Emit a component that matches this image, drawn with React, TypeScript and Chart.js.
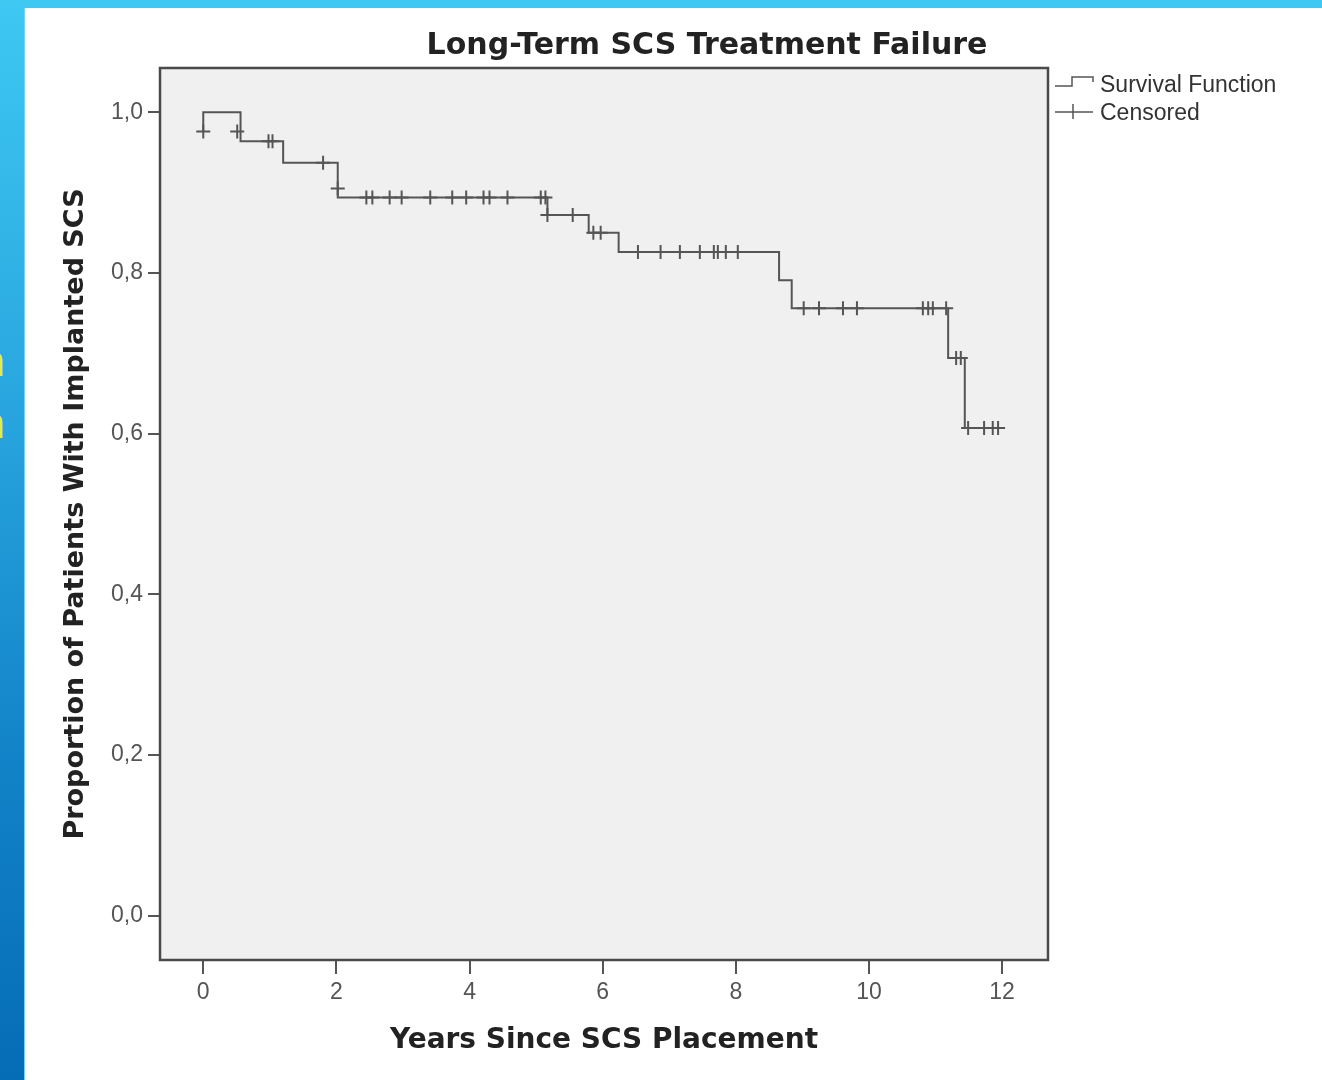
import { useEffect, useRef } from 'react';
import { Chart, registerables } from 'chart.js';

Chart.register(...registerables);

// Kaplan-Meier step points (time in years, survival proportion)
const eventTimes = [0, 0, 0.56, 1.2, 2.02, 5.17, 5.79, 6.24, 8.65, 8.84, 11.19, 11.44, 12.02];
const survivalValues = [0.976, 1.0, 0.964, 0.937, 0.894, 0.872, 0.85, 0.826, 0.791, 0.756, 0.694, 0.607, 0.607];

// Censored observations
const censorTimes = [
  0, 0.51, 0.98, 1.04, 1.8, 2.02,
  2.45, 2.54, 2.8, 2.98, 3.41, 3.74, 3.95, 4.21, 4.3, 4.57, 5.07, 5.14,
  5.17, 5.55, 5.86, 5.97,
  6.53, 6.87, 7.16, 7.46, 7.67, 7.73, 7.85, 8.03,
  9.02, 9.25, 9.61, 9.82, 10.81, 10.89, 10.96, 11.16,
  11.31, 11.38, 11.49, 11.73, 11.86, 11.94,
];
const censorValues = [
  0.976, 0.976, 0.964, 0.964, 0.937, 0.905,
  0.894, 0.894, 0.894, 0.894, 0.894, 0.894, 0.894, 0.894, 0.894, 0.894, 0.894, 0.894,
  0.872, 0.872, 0.85, 0.85,
  0.826, 0.826, 0.826, 0.826, 0.826, 0.826, 0.826, 0.826,
  0.756, 0.756, 0.756, 0.756, 0.756, 0.756, 0.756, 0.756,
  0.694, 0.694, 0.607, 0.607, 0.607, 0.607,
];

const xTicks = [0, 2, 4, 6, 8, 10, 12];
const yTicks = [0, 0.2, 0.4, 0.6, 0.8, 1.0];
const titleText = 'Long-Term SCS Treatment Failure';
const xTitle = 'Years Since SCS Placement';
const yTitle = 'Proportion of Patients With Implanted SCS';
const legendLabels = ['Survival Function', 'Censored'];

const FONT = '"Liberation Sans", Arial, sans-serif';
const BOLD_FONT = '"DejaVu Sans", "Liberation Sans", sans-serif';
const LINE = '#555555';
const CW = 1298;
const CH = 1072;

export default function App() {
  const ref = useRef<HTMLCanvasElement | null>(null);

  useEffect(() => {
    const canvas = ref.current;
    if (!canvas) return;

    const decor = {
      id: 'decor',
      beforeDraw(chart: any) {
        const { ctx, chartArea: a } = chart;
        ctx.save();
        ctx.fillStyle = '#f0f0f0';
        ctx.fillRect(a.left, a.top, a.right - a.left, a.bottom - a.top);
        ctx.restore();
      },
      afterDraw(chart: any) {
        const { ctx, chartArea: a } = chart;
        ctx.save();
        // frame
        ctx.strokeStyle = '#4a4a4a';
        ctx.lineWidth = 2.5;
        ctx.strokeRect(a.left, a.top, a.right - a.left, a.bottom - a.top);
        // title
        ctx.fillStyle = '#222222';
        ctx.font = `bold 30px ${BOLD_FONT}`;
        ctx.textAlign = 'center';
        ctx.textBaseline = 'middle';
        ctx.fillText(titleText, 683, 38);
        // legend
        const lx = a.right + 7;
        ctx.strokeStyle = LINE;
        ctx.lineWidth = 1.5;
        ctx.beginPath();
        ctx.moveTo(lx, 78);
        ctx.lineTo(lx + 17, 78);
        ctx.lineTo(lx + 17, 69);
        ctx.lineTo(lx + 38, 69);
        ctx.lineTo(lx + 38, 74);
        ctx.stroke();
        ctx.beginPath();
        ctx.moveTo(lx, 104);
        ctx.lineTo(lx + 38, 104);
        ctx.moveTo(lx + 18, 96);
        ctx.lineTo(lx + 18, 111);
        ctx.stroke();
        ctx.fillStyle = '#333333';
        ctx.font = `23px ${FONT}`;
        ctx.textAlign = 'left';
        ctx.fillText(legendLabels[0], lx + 45, 78);
        ctx.fillText(legendLabels[1], lx + 45, 106);
        ctx.restore();
      },
    };

    const chart = new Chart(canvas, {
      type: 'line',
      data: {
        datasets: [
          {
            label: legendLabels[0],
            data: eventTimes.map((t, i) => ({ x: t, y: survivalValues[i] })),
            stepped: true,
            borderColor: LINE,
            borderWidth: 2,
            pointRadius: 0,
            fill: false,
          },
          {
            label: legendLabels[1],
            data: censorTimes.map((t, i) => ({ x: t, y: censorValues[i] })),
            showLine: false,
            pointStyle: 'cross',
            pointRadius: 7,
            pointBorderWidth: 2,
            borderColor: LINE,
            backgroundColor: LINE,
          },
        ],
      },
      options: {
        animation: false,
        responsive: false,
        devicePixelRatio: 1,
        layout: { padding: { top: 60, right: CW - 1024, left: 0, bottom: 0 } },
        plugins: {
          legend: { display: false },
          title: { display: false },
          tooltip: { enabled: false },
        },
        scales: {
          x: {
            type: 'linear',
            min: -0.65,
            max: 12.69,
            afterBuildTicks: (s: any) => {
              s.ticks = xTicks.map((v) => ({ value: v }));
            },
            afterFit: (s: any) => {
              s.height = CH - 952;
            },
            grid: {
              drawOnChartArea: false,
              drawTicks: true,
              tickLength: 14,
              color: LINE,
              lineWidth: 2,
            },
            border: { display: false },
            ticks: {
              color: '#555555',
              padding: 5,
              maxRotation: 0,
              font: { family: FONT, size: 23 },
            },
            title: {
              display: true,
              text: xTitle,
              color: '#222222',
              font: { family: BOLD_FONT, size: 28, weight: 'bold' },
              padding: { top: 0, bottom: 22 },
            },
          },
          y: {
            type: 'linear',
            min: -0.055,
            max: 1.055,
            afterBuildTicks: (s: any) => {
              s.ticks = yTicks.map((v) => ({ value: v }));
            },
            afterFit: (s: any) => {
              s.width = 136;
            },
            grid: {
              drawOnChartArea: false,
              drawTicks: true,
              tickLength: 12,
              color: LINE,
              lineWidth: 2,
            },
            border: { display: false },
            ticks: {
              color: '#555555',
              padding: 5,
              font: { family: FONT, size: 23 },
              callback: (v: any) => Number(v).toFixed(1).replace('.', ','),
            },
            title: {
              display: true,
              text: yTitle,
              color: '#222222',
              font: { family: BOLD_FONT, size: 27, weight: 'bold' },
              padding: { top: 36, bottom: 0 },
            },
          },
        },
      },
      plugins: [decor],
    } as any);

    return () => chart.destroy();
  }, []);

  return (
    <div
      style={{
        position: 'fixed',
        left: 0,
        top: 0,
        width: 1322,
        height: 1080,
        overflow: 'hidden',
        background: 'linear-gradient(to bottom, #3ec8f2 0%, #2aa8e0 35%, #1283c8 70%, #056cb6 100%)',
      }}
    >
      <div
        style={{
          position: 'absolute',
          left: -22,
          top: 330,
          color: '#d8f048',
          font: `bold 44px ${FONT}`,
          lineHeight: '62px',
        }}
      >
        n<br />n
      </div>
      <div
        style={{
          position: 'absolute',
          left: 24,
          top: 8,
          width: CW,
          height: CH,
          background: '#ffffff',
          borderLeft: '1px solid #7cd0f4',
          boxSizing: 'border-box',
        }}
      />
      <canvas
        ref={ref}
        width={CW}
        height={CH}
        style={{ position: 'absolute', left: 24, top: 8, width: CW, height: CH }}
      />
    </div>
  );
}
